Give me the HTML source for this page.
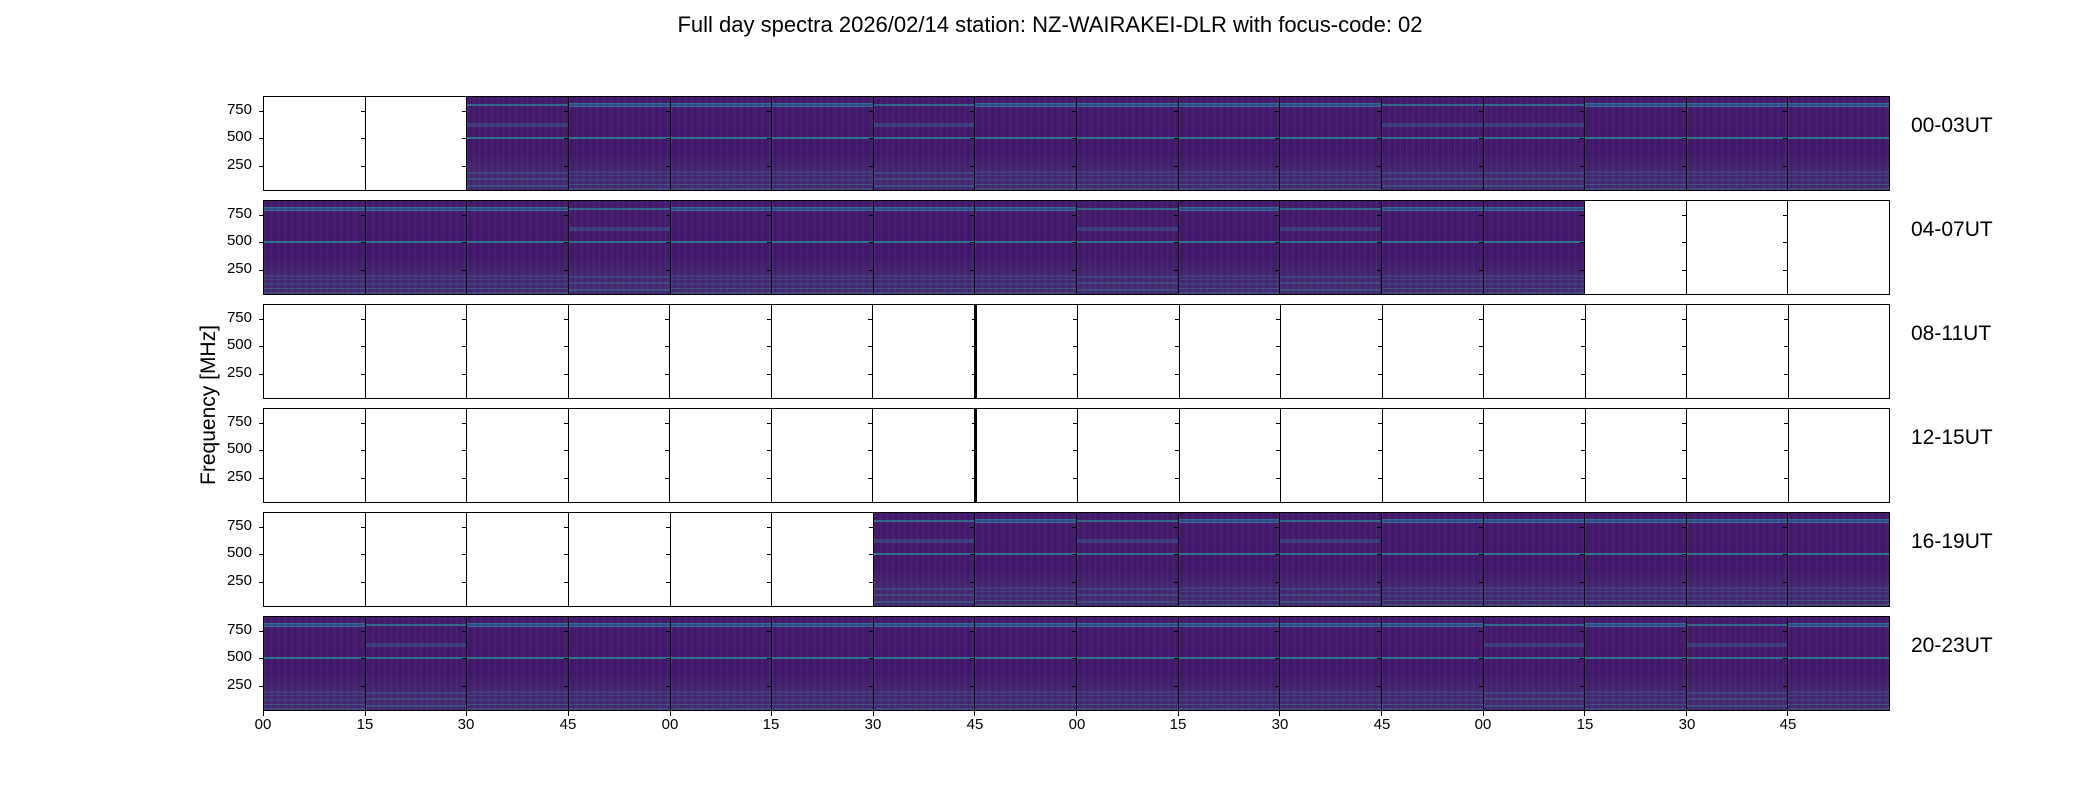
<!DOCTYPE html>
<html><head><meta charset="utf-8"><style>
html,body{margin:0;padding:0;background:#fff;}
#w{position:relative;width:2100px;height:800px;overflow:hidden;font-family:"Liberation Sans","DejaVu Sans",sans-serif;color:#000;}
.t{position:absolute;white-space:nowrap;}
.row{position:absolute;left:263px;width:1627px;height:95px;display:flex;border:1px solid #000;box-sizing:border-box;}
.row>div{flex:1;position:relative;border-left:1px solid #000;}
.row>div:first-child{border-left:none;}
.row>div::before{content:"";position:absolute;left:-5px;top:14px;width:4px;height:1px;background:#000;box-shadow:0 27px 0 #000,0 55px 0 #000;}
.bt::after{content:"";position:absolute;left:-1px;bottom:-6px;width:1px;height:5px;background:#000;}
.d{background:
 repeating-linear-gradient(to right,rgba(80,140,160,0.10) 0 1px,transparent 1px 3px,rgba(30,0,50,0.12) 3px 4px,transparent 4px 7px),
 linear-gradient(to bottom,transparent 0 6px,#3a6c8e 6px 7px,#2f4f8a 7px 9px,#3b6e8e 9px 10px,transparent 10px 40px,#2d7a8d 40px 42px,transparent 42px 74px,
  rgba(60,80,140,.5) 74px 76px,transparent 76px 78px,rgba(60,90,140,.6) 78px 79px,transparent 79px 82px,rgba(60,90,140,.5) 82px 84px,transparent 84px 87px,rgba(60,110,140,.6) 87px 88px,transparent 88px 91px,rgba(60,100,140,.5) 91px 93px,transparent 93px),
 linear-gradient(to bottom,#471a6e 0,#44186c 60%,#48266f 78%,#472a72 100%);}
.d2{background:
 repeating-linear-gradient(to right,rgba(80,140,160,0.10) 0 1px,transparent 1px 4px,rgba(30,0,50,0.12) 4px 5px,transparent 5px 6px),
 linear-gradient(to bottom,transparent 0 7px,#346a8e 7px 9px,transparent 9px 26px,rgba(60,100,140,.5) 26px 30px,transparent 30px 40px,#2d758d 40px 42px,transparent 42px 75px,
  rgba(60,90,140,.6) 75px 77px,transparent 77px 81px,rgba(60,110,140,.5) 81px 83px,transparent 83px 88px,rgba(60,100,140,.6) 88px 90px,transparent 90px),
 linear-gradient(to bottom,#461a6d 0,#45196c 60%,#482770 78%,#462b72 100%);}
.y{position:absolute;right:1848px;font-size:15px;white-space:nowrap;}
.x{position:absolute;width:40px;text-align:center;top:716px;font-size:15px;}
.u{position:absolute;left:1911px;font-size:21px;white-space:nowrap;}
</style></head><body><div id="w">
<div class="t" style="left:0;width:2100px;text-align:center;top:12px;font-size:22px;">Full day spectra 2026/02/14 station: NZ-WAIRAKEI-DLR with focus-code: 02</div>
<div class="t" style="left:209px;top:405px;font-size:21px;transform:translate(-50%,-50%) rotate(-90deg);">Frequency [MHz]</div>

<div class="row" style="top:96px"><div></div><div></div><div class="d2"></div><div class="d"></div><div class="d"></div><div class="d"></div><div class="d2"></div><div class="d"></div><div class="d"></div><div class="d"></div><div class="d"></div><div class="d2"></div><div class="d2"></div><div class="d"></div><div class="d"></div><div class="d"></div></div>
<div class="row" style="top:200px"><div class="d"></div><div class="d"></div><div class="d"></div><div class="d2"></div><div class="d"></div><div class="d"></div><div class="d"></div><div class="d"></div><div class="d2"></div><div class="d"></div><div class="d2"></div><div class="d"></div><div class="d"></div><div></div><div></div><div></div></div>
<div class="row" style="top:304px"><div></div><div></div><div></div><div></div><div></div><div></div><div></div><div style="border-left:3px solid #000"></div><div></div><div></div><div></div><div></div><div></div><div></div><div></div><div></div></div>
<div class="row" style="top:408px"><div></div><div></div><div></div><div></div><div></div><div></div><div></div><div style="border-left:3px solid #000"></div><div></div><div></div><div></div><div></div><div></div><div></div><div></div><div></div></div>
<div class="row" style="top:512px"><div></div><div></div><div></div><div></div><div></div><div></div><div class="d2"></div><div class="d"></div><div class="d2"></div><div class="d"></div><div class="d2"></div><div class="d"></div><div class="d"></div><div class="d"></div><div class="d"></div><div class="d"></div></div>
<div class="row" style="top:616px"><div class="d bt"></div><div class="d2 bt"></div><div class="d bt"></div><div class="d bt"></div><div class="d bt"></div><div class="d bt"></div><div class="d bt"></div><div class="d bt"></div><div class="d bt"></div><div class="d bt"></div><div class="d bt"></div><div class="d bt"></div><div class="d2 bt"></div><div class="d bt"></div><div class="d2 bt"></div><div class="d bt"></div></div>

<div class="u" style="top:114px;">00-03UT</div>
<div class="u" style="top:218px;">04-07UT</div>
<div class="u" style="top:322px;">08-11UT</div>
<div class="u" style="top:426px;">12-15UT</div>
<div class="u" style="top:530px;">16-19UT</div>
<div class="u" style="top:634px;">20-23UT</div>

<div class="y" style="top:101px;">750</div><div class="y" style="top:128px;">500</div><div class="y" style="top:156px;">250</div>
<div class="y" style="top:205px;">750</div><div class="y" style="top:232px;">500</div><div class="y" style="top:260px;">250</div>
<div class="y" style="top:309px;">750</div><div class="y" style="top:336px;">500</div><div class="y" style="top:364px;">250</div>
<div class="y" style="top:413px;">750</div><div class="y" style="top:440px;">500</div><div class="y" style="top:468px;">250</div>
<div class="y" style="top:517px;">750</div><div class="y" style="top:544px;">500</div><div class="y" style="top:572px;">250</div>
<div class="y" style="top:621px;">750</div><div class="y" style="top:648px;">500</div><div class="y" style="top:676px;">250</div>

<div class="x" style="left:243px;">00</div>
<div class="x" style="left:345px;">15</div>
<div class="x" style="left:446px;">30</div>
<div class="x" style="left:548px;">45</div>
<div class="x" style="left:650px;">00</div>
<div class="x" style="left:751px;">15</div>
<div class="x" style="left:853px;">30</div>
<div class="x" style="left:955px;">45</div>
<div class="x" style="left:1057px;">00</div>
<div class="x" style="left:1158px;">15</div>
<div class="x" style="left:1260px;">30</div>
<div class="x" style="left:1362px;">45</div>
<div class="x" style="left:1463px;">00</div>
<div class="x" style="left:1565px;">15</div>
<div class="x" style="left:1667px;">30</div>
<div class="x" style="left:1768px;">45</div>
</div>
</body></html>
